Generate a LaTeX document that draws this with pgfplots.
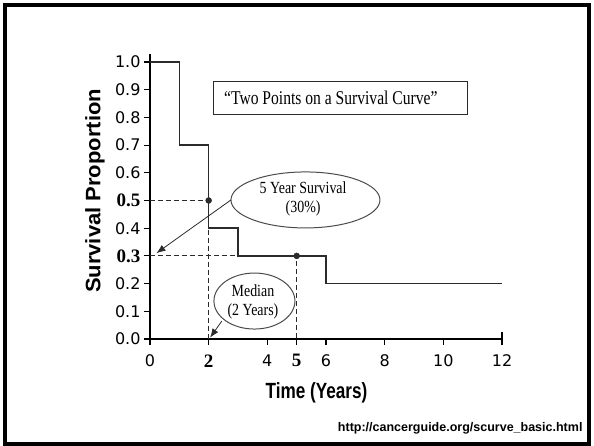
\documentclass[border=0pt]{standalone}
\usepackage{pgfplots}
\pgfplotsset{compat=1.18}
\usetikzlibrary{arrows.meta}
\usepackage{graphicx}
\usepackage{fontspec}
\setmainfont{Liberation Sans}
\newfontfamily\tnr{Liberation Serif}
\newfontfamily\dvs{DejaVu Sans}

\definecolor{ink}{HTML}{2B2B2B}

\begin{document}
\begin{tikzpicture}
% slide frame
\draw[line width=4pt] (5pt,2pt) rectangle (589pt,441pt);

\begin{axis}[
    at={(150pt,107pt)}, anchor=south west,
    scale only axis,
    width=352pt, height=285.3pt,
    xmin=0, xmax=12, ymin=0, ymax=1.03,
    axis x line=bottom, axis y line=left,
    axis line style={-, line width=1.6pt, black},
    tick style={line width=1.2pt, black},
    major tick length=6pt,
    tick align=outside,
    xtick={0,2,4,5,6,8,10,12},
    xticklabels={0,{\tnr\bfseries\fontsize{19}{20}\selectfont 2},4,{\tnr\bfseries\fontsize{19}{20}\selectfont 5},6,8,10,12},
    ytick={0,0.1,0.2,0.3,0.4,0.5,0.6,0.7,0.8,0.9,1.0},
    yticklabels={0.0,0.1,0.2,{\tnr\bfseries\fontsize{19}{20}\selectfont 0.3},0.4,{\tnr\bfseries\fontsize{19}{20}\selectfont 0.5},0.6,0.7,0.8,0.9,1.0},
    tick label style={font=\dvs\fontsize{16}{18}\selectfont},
    xticklabel style={yshift=-6pt},
    xlabel={\scalebox{0.78}[1]{Time (Years)}},
    xlabel style={font=\bfseries\fontsize{22}{26}\selectfont,
        at={(axis description cs:0.473,-0.189)}, anchor=center},
    ylabel={\scalebox{1}[0.95]{Survival Proportion}},
    ylabel style={font=\bfseries\fontsize{22}{26}\selectfont,
        at={(axis description cs:-0.156,0.519)}, anchor=center},
    clip=false,
]

% survival step curve
\addplot[const plot, ink, line width=1.6pt] coordinates {
    (0,1.0) (1,0.7) (2,0.4) (3,0.3) (6,0.2) (12,0.2)
};

% reading lines
\addplot[ink, line width=1pt, dash pattern=on 5pt off 3pt] coordinates {
    (0,0.5) (2,0.5) (2,0)
};
\addplot[ink, line width=1pt, dash pattern=on 5pt off 3pt] coordinates {
    (0,0.3) (5,0.3) (5,0)
};

% the two points
\addplot[only marks, mark=*, mark size=3pt, ink] coordinates {
    (2,0.5) (5,0.3)
};

% end tick at 12
\draw[line width=1.2pt] (axis cs:12,-0.022) -- (axis cs:12,0.026);

% title box
\draw[ink, line width=1.1pt] (axis cs:2.18,0.809) rectangle (axis cs:10.81,0.931);
\node[anchor=west, inner sep=0pt, font=\tnr\fontsize{19.5}{22}\selectfont]
    at (axis cs:2.52,0.870) {\scalebox{0.8}[1]{“Two Points on a Survival Curve”}};

% 5 year survival callout
\draw[ink!85, line width=1pt] (axis cs:5.30,0.502) ellipse [x radius=74.5pt, y radius=28pt];
\node[align=center, font=\tnr\fontsize{17}{18.5}\selectfont]
    at (axis cs:5.22,0.505) {\scalebox{0.82}[1]{5 Year Survival}\\\scalebox{0.82}[1]{(30\%)}};
\draw[ink, line width=0.8pt, -{Latex[length=9pt,width=7pt]}]
    (axis cs:2.76,0.502) -- (axis cs:0.22,0.31);

% median callout
\draw[ink!85, line width=1pt] (axis cs:3.56,0.137) ellipse [x radius=40.5pt, y radius=28pt];
\node[align=center, font=\tnr\fontsize{17}{18.5}\selectfont]
    at (axis cs:3.51,0.134) {\scalebox{0.82}[1]{Median}\\\scalebox{0.82}[1]{(2 Years)}};
\draw[ink, line width=0.8pt, -{Latex[length=9pt,width=7pt]}]
    (axis cs:2.45,0.065) -- (axis cs:2.05,0.005);

\end{axis}

\node[anchor=east, font=\bfseries\fontsize{12.5}{14}\selectfont]
    at (586pt,18pt) {http://cancerguide.org/scurve\_basic.html};

\pgfresetboundingbox
\useasboundingbox (0,0) rectangle (594pt,446pt);
\end{tikzpicture}
\end{document}
